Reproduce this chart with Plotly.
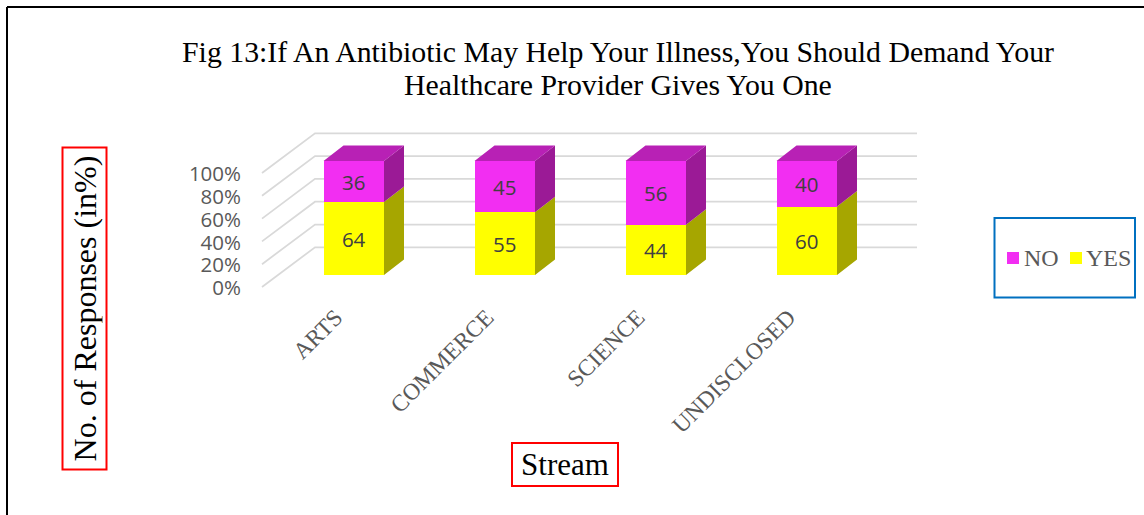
import plotly.graph_objects as go

categories = ["ARTS", "COMMERCE", "SCIENCE", "UNDISCLOSED"]
yes_values = [64, 55, 44, 60]
no_values = [36, 45, 56, 40]
y_ticks = [0, 20, 40, 60, 80, 100]

TITLE_LINE_1 = "Fig 13:If An Antibiotic May Help Your Illness,You Should Demand Your"
TITLE_LINE_2 = "Healthcare Provider Gives You One"
W, H = 1144, 515
SERIF = "Liberation Serif"
SANS = "Open Sans"
PX_PER_CAT = 151.0
PX_PER_PCT = 1.14
X0_PX, Y0_PX = 353.75, 275.0
L, R, T, B = 245, 1144, 125, 300
YES_COLOR, NO_COLOR = "#FFFF00", "#F22EF2"


def px(x):
    return (x - L) / (R - L)


def py(y):
    return (B - y) / (B - T)


x_pos = list(range(len(categories)))
BAR_W = 60.5 / PX_PER_CAT
DX = 20 / PX_PER_CAT
DY = 15.5 / PX_PER_PCT
FLOOR_X = (262 - X0_PX) / PX_PER_CAT
FLOOR_DY = (Y0_PX - 287) / PX_PER_PCT
WALL_X = (315 - X0_PX) / PX_PER_CAT
WALL_DY = (Y0_PX - 247.3) / PX_PER_PCT
WALL_END = (917 - X0_PX) / PX_PER_CAT


def polys(lows, highs, top=False):
    xs, ys = [], []
    for x, lo, hi in zip(x_pos, lows, highs):
        a, b = x - BAR_W / 2, x + BAR_W / 2
        if top:
            xs += [a, b, b + DX, a + DX, a, None]
            ys += [hi, hi, hi + DY, hi + DY, hi, None]
        else:
            xs += [b, b + DX, b + DX, b, b, None]
            ys += [lo, lo + DY, hi + DY, hi, lo, None]
    return xs, ys


fig = go.Figure()
zeros = [0] * len(yes_values)
totals = [a + b for a, b in zip(yes_values, no_values)]

for name, vals, front in [("YES", yes_values, YES_COLOR), ("NO", no_values, NO_COLOR)]:
    fig.add_bar(x=x_pos, y=vals, name=name, width=BAR_W, marker=dict(color=front, line=dict(width=0)),
                text=[str(v) for v in vals], textposition="inside", insidetextanchor="middle",
                textangle=0, textfont=dict(family=SANS, size=20.5, color="#404040"), hoverinfo="skip",
                showlegend=False)

for lows, highs, col, top in [(zeros, yes_values, "#A6A600", False),
                              (yes_values, totals, "#9B1A96", False),
                              (yes_values, totals, "#B821B5", True)]:
    xs, ys = polys(lows, highs, top)
    fig.add_scatter(x=xs, y=ys, mode="none", fill="toself", fillcolor=col, showlegend=False, hoverinfo="skip")

shapes = []
for v in y_ticks:
    shapes.append(dict(type="path", xref="x", yref="y", layer="below",
                       path=f"M {FLOOR_X} {v + FLOOR_DY} L {WALL_X} {v + WALL_DY} L {WALL_END} {v + WALL_DY}",
                       line=dict(color="#D9D9D9", width=1.75)))
for x0, y0, x1, y1 in [(7, 7, W, 7), (7, 7, 7, H)]:
    shapes.append(dict(type="line", xref="paper", yref="paper", x0=px(x0), x1=px(x1),
                       y0=py(y0), y1=py(y1), line=dict(color="#000000", width=2)))
shapes.append(dict(type="rect", xref="paper", yref="paper", x0=px(994.5), x1=px(1135),
                   y0=py(218), y1=py(297.5), line=dict(color="#0070C0", width=2)))
for x0, col in [(1007, NO_COLOR), (1070, YES_COLOR)]:
    shapes.append(dict(type="rect", xref="paper", yref="paper", x0=px(x0), x1=px(x0 + 12),
                       y0=py(252), y1=py(264), fillcolor=col, line=dict(width=0)))

annotations = [
    dict(text=TITLE_LINE_2, xref="paper", yref="paper", x=px(618), y=py(85), xanchor="center", yanchor="middle",
         showarrow=False, font=dict(family=SERIF, size=29.8, color="#000000")),
    dict(text="No. of Responses (in%)", textangle=-90, xref="paper", yref="paper", x=px(84.5), y=py(309),
         xanchor="center", yanchor="middle",
         showarrow=False, width=314, align="center", font=dict(family=SERIF, size=32, color="#000000"),
         bordercolor="#FF0000", borderwidth=2, borderpad=3),
    dict(text="Stream", xref="paper", yref="paper", x=px(564.5), y=py(464.5), xanchor="center", yanchor="middle",
         showarrow=False, width=98, align="center", font=dict(family=SERIF, size=31, color="#000000"),
         bordercolor="#FF0000", borderwidth=2, borderpad=3),
    dict(text="NO", xref="paper", yref="paper", x=px(1022), y=py(258), xanchor="left", yanchor="middle",
         showarrow=False, font=dict(family=SERIF, size=24, color="#595959")),
    dict(text="YES", xref="paper", yref="paper", x=px(1084), y=py(258), xanchor="left", yanchor="middle",
         showarrow=False, font=dict(family=SERIF, size=24, color="#595959")),
]

fig.update_layout(
    width=W, height=H, autosize=False,
    margin=dict(l=L, r=W - R, t=T, b=H - B, pad=0),
    paper_bgcolor="#FFFFFF", plot_bgcolor="rgba(0,0,0,0)",
    barmode="stack",
    title=dict(text=TITLE_LINE_1, x=618 / W, xanchor="center", y=1 - 52 / H, yanchor="middle",
               font=dict(family=SERIF, size=29.8, color="#000000")),
    xaxis=dict(range=[(L - X0_PX) / PX_PER_CAT, (R - X0_PX) / PX_PER_CAT], tickmode="array",
               tickvals=x_pos, ticktext=categories, tickangle=-45, showgrid=False, zeroline=False,
               showline=False, ticks="", tickfont=dict(family=SERIF, size=23.5, color="#595959"),
               ticklabelshift=-18, ticklabelstandoff=-2),
    yaxis=dict(range=[(Y0_PX - B) / PX_PER_PCT, (Y0_PX - T) / PX_PER_PCT], tickmode="array",
               tickvals=y_ticks, ticktext=[f"{v}%" for v in y_ticks], showgrid=False, zeroline=False,
               showline=False, ticks="", tickfont=dict(family=SANS, size=20.5, color="#595959"),
               ticklabelshift=13, ticklabelstandoff=3),
    shapes=shapes, annotations=annotations, showlegend=False,
)

fig.write_html("out.html", config={"displayModeBar": False}, post_script="document.body.style.margin='0';")
